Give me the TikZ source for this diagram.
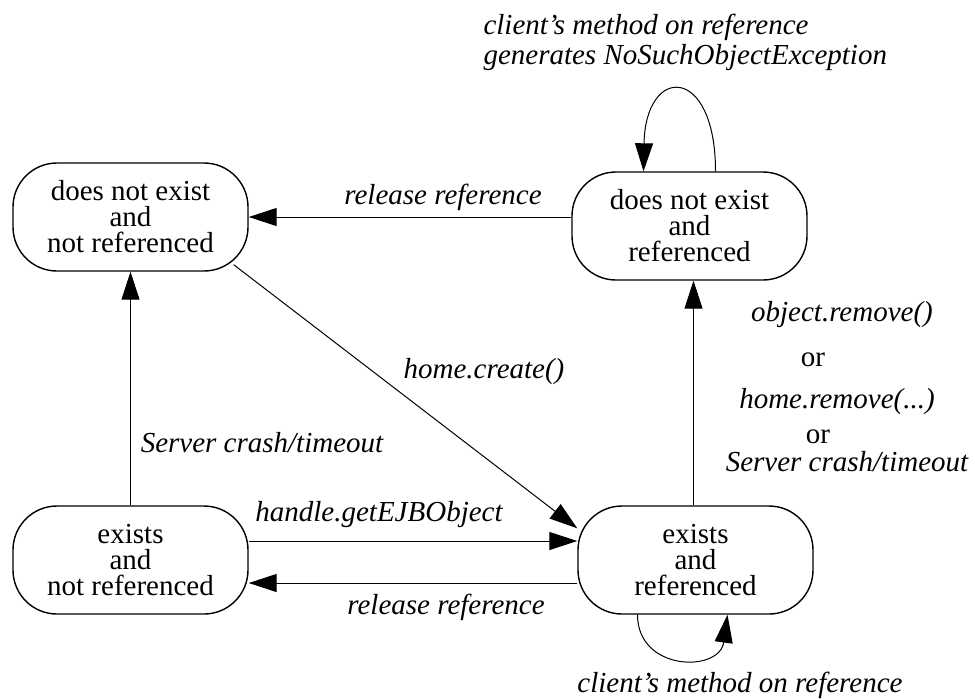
\documentclass[tikz,border=0pt]{standalone}
\usepackage{fontspec}
\setmainfont{Liberation Serif}
\usetikzlibrary{arrows.meta}

\tikzset{
  statebox/.style={draw,line width=.7pt,rounded corners=22pt,minimum width=117.5pt,minimum height=54pt,align=center,inner sep=0pt,font=\fontsize{14.5}{13}\selectfont},
  lbl/.style={inner sep=0pt,align=left,font=\fontsize{14.5}{15}\selectfont\itshape},
  orlbl/.style={inner sep=0pt,font=\fontsize{14.5}{15}\selectfont},
}

\begin{document}
\begin{tikzpicture}[>={Triangle[length=14pt,width=9pt]},line width=.5pt]
\begin{scope}[x=.5pt,y=-.5pt]
\useasboundingbox (0,0) rectangle (975,698);
\node[statebox] (dnenr) at (130.5,217) {does not exist\\and\\not referenced};
\node[statebox] (dner) at (689.5,226) {does not exist\\and\\referenced};
\node[statebox] (exnr) at (130.5,560) {exists\\and\\not referenced};
\node[statebox] (exr) at (695.5,560) {exists\\and\\referenced};
\draw[->] (dnenr.east -| dner.west) -- (dnenr.east);
\draw[->] (exnr.north) -- (exnr.north |- dnenr.south);
\draw[->] ([xshift=-7.5pt,yshift=3.5pt]dnenr.south east) -- ([yshift=-11.5pt]exr.north west);
\draw[->] ([yshift=9.5pt]exnr.east) -- ([yshift=9.5pt]exnr.east -| exr.west);
\draw[->] ([yshift=-11.5pt]exr.west) -- ([yshift=-11.5pt]exr.west -| exnr.east);
\draw[->] ([xshift=-1pt]exr.north) -- ([xshift=-1pt]exr.north |- dner.south);
\draw[->] ([xshift=13pt]dner.north) .. controls +(0,-107) and +(2,-107) .. ([xshift=-23pt]dner.north);
\draw[->] ([xshift=-29pt]exr.south) .. controls +(0,57) and +(-8,58) .. ([xshift=16pt]exr.south);
\node[lbl,anchor=west] (topnote) at (483,42) {client's method on reference\\generates NoSuchObjectException};
\node[lbl] (relup) at (443,197) {release reference};
\node[lbl] (create) at (484,372) {home.create()};
\node[lbl] (crashleft) at (262,443) {Server crash/timeout};
\node[lbl] (handle) at (379,515) {handle.getEJBObject};
\node[lbl] (reldown) at (446,607) {release reference};
\node[lbl] (botnote) at (740,685) {client's method on reference};
\node[lbl] (objrem) at (842,315) {object.remove()};
\node[orlbl] (orone) at (813,360) {or};
\node[lbl] (homerem) at (837,402) {home.remove(...)};
\node[orlbl] (ortwo) at (818,437) {or};
\node[lbl] (crashright) at (847,462) {Server crash/timeout};
\end{scope}
\end{tikzpicture}
\end{document}
